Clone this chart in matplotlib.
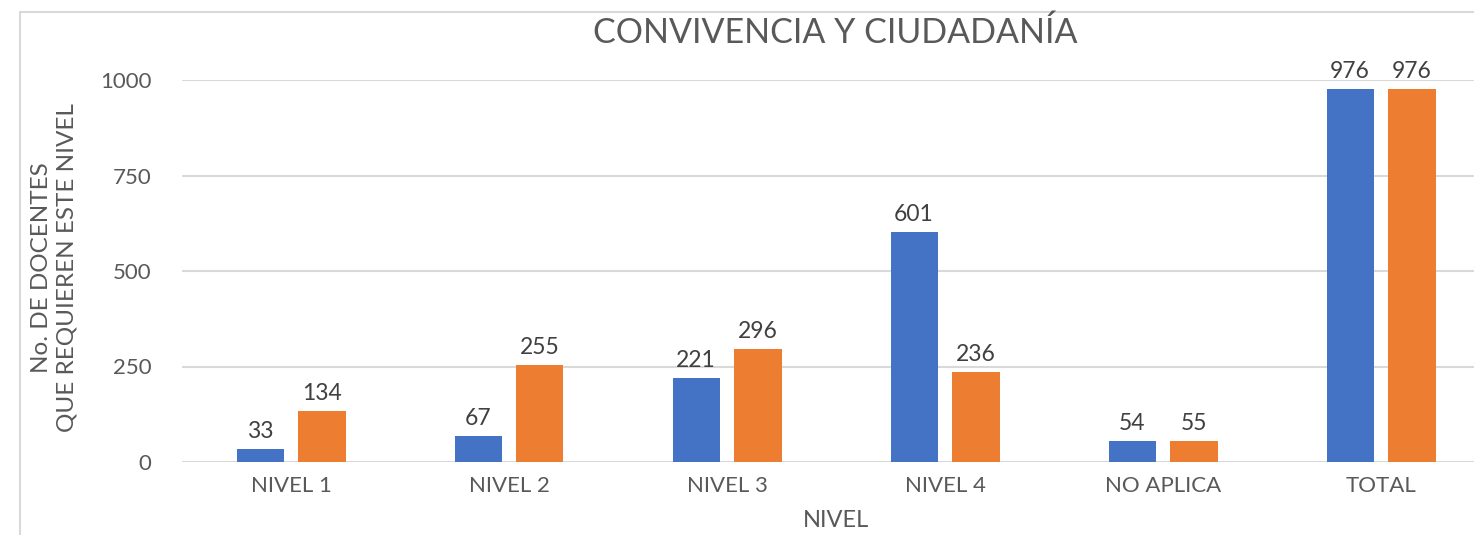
import matplotlib.pyplot as plt
import numpy as np
from matplotlib.patches import Rectangle

categories = ['NIVEL 1', 'NIVEL 2', 'NIVEL 3', 'NIVEL 4', 'NO APLICA', 'TOTAL']
serie_a = [33, 67, 221, 601, 54, 976]
serie_b = [134, 255, 296, 236, 55, 976]
y_ticks = [0, 250, 500, 750, 1000]

blue = '#4472C4'
orange = '#ED7D31'
text_col = '#595959'

plt.rcParams['font.family'] = ['Lato', 'DejaVu Sans']

W, H = 1474, 535
fig = plt.figure(figsize=(W / 100, H / 100), dpi=100)

# chart border (cropped on right and bottom)
fig.patches.append(Rectangle((20 / W, -0.1), 1.2, (H - 12) / H + 0.1,
                             transform=fig.transFigure, fill=False,
                             edgecolor='#d9d9d9', linewidth=1.5))

ax = fig.add_axes([182 / W, (H - 462) / H, 1308 / W, 382 / H])

x = np.arange(len(categories))
bw = 0.216
off = 0.142
bars_a = ax.bar(x - off, serie_a, bw, color=blue, zorder=3)
bars_b = ax.bar(x + off, serie_b, bw, color=orange, zorder=3)

for bars in (bars_a, bars_b):
    for b in bars:
        ax.annotate(str(int(b.get_height())),
                    (b.get_x() + b.get_width() / 2, b.get_height()),
                    xytext=(0, 5), textcoords='offset points',
                    ha='center', va='bottom', fontsize=16.5, color='#404040',
                    annotation_clip=False)

ax.set_xlim(-0.5, len(categories) - 0.5)
ax.set_ylim(0, 1000)
ax.set_yticks(y_ticks)
ax.set_xticks(x)
ax.set_xticklabels(categories)
ax.grid(axis='y', color='#d9d9d9', linewidth=1.5, zorder=0)
ax.tick_params(axis='both', length=0, labelsize=16, colors=text_col)
ax.tick_params(axis='x', pad=10)
ax.tick_params(axis='y', pad=22)
for s in ax.spines.values():
    s.set_visible(False)

ax.set_xlabel('NIVEL', fontsize=17, color=text_col, labelpad=10)
fig.text(54 / W, 1 - 268 / H, 'No. DE DOCENTES\nQUE REQUIEREN ESTE NIVEL',
         rotation=90, ha='center', va='center', fontsize=17.5,
         color=text_col, linespacing=1.25)
fig.text(835 / W, 1 - 33 / H, 'CONVIVENCIA Y CIUDADANÍA',
         ha='center', va='center', fontsize=24.5, color=text_col)

fig.savefig('out.png', dpi=100)
